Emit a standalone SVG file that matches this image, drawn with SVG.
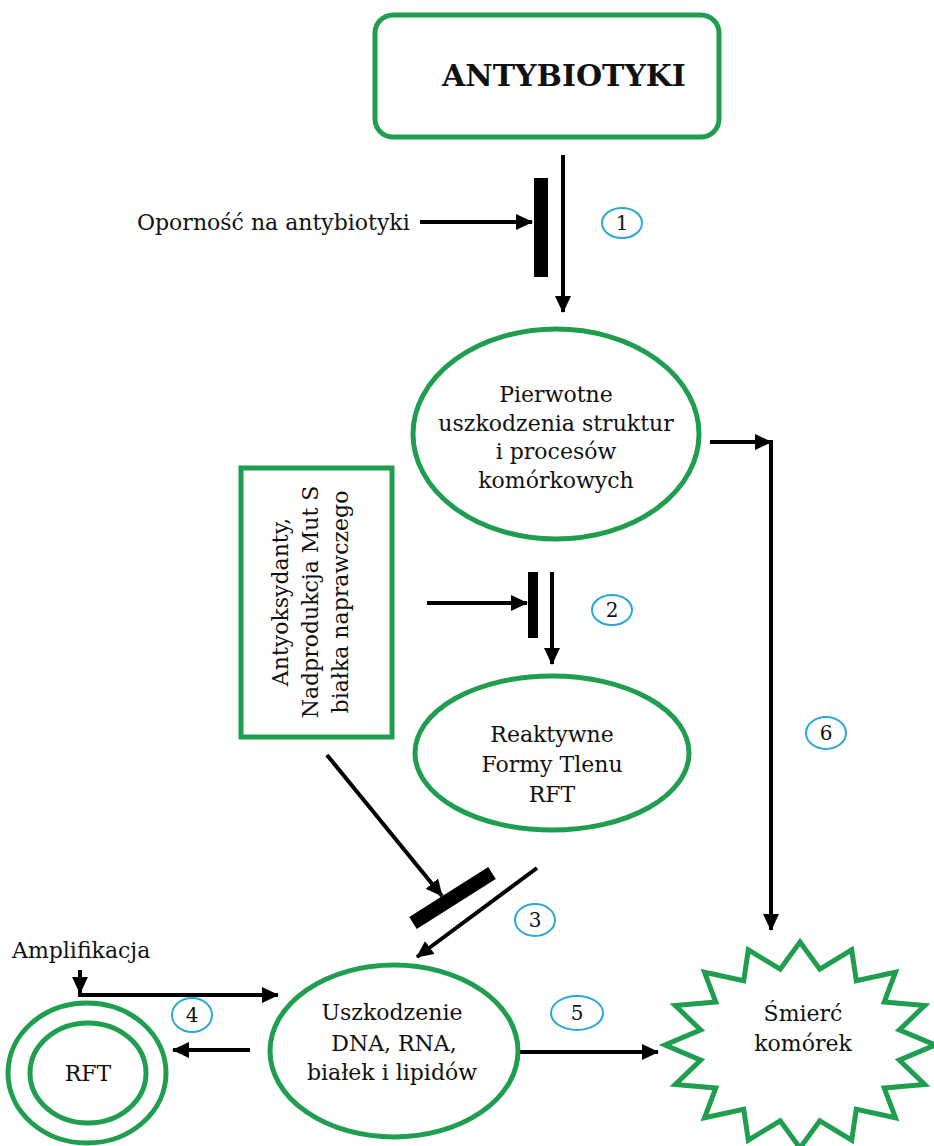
<svg xmlns="http://www.w3.org/2000/svg" width="934" height="1146" viewBox="0 0 934 1146">
<style>
.g{fill:#fff;stroke:#1f9e4f;stroke-width:5}
.t{font-family:"DejaVu Serif","Liberation Serif",serif;font-size:22px;fill:#111;text-anchor:middle}
.lb{fill:none;stroke:#2aa8d8;stroke-width:2}
.n{font-family:"DejaVu Serif","Liberation Serif",serif;font-size:20px;fill:#111;text-anchor:middle}
.c{stroke:#000;stroke-width:4;fill:none}
.bar{fill:#000}
</style>
<defs>
<marker id="ah" markerUnits="userSpaceOnUse" markerWidth="18" markerHeight="18" viewBox="0 0 18 18" refX="16" refY="9" orient="auto">
<path d="M0,1 L17,9 L0,17 Z" fill="#000"/>
</marker>
</defs>
<rect width="934" height="1146" fill="#fff"/>

<g id="antybiotyki">
<rect class="g" x="375" y="15" width="344" height="122" rx="18"/>
<text x="564" y="86" style="font-family:'DejaVu Serif','Liberation Serif',serif;font-weight:bold;font-size:30px;text-anchor:middle;fill:#111">ANTYBIOTYKI</text>
</g>

<g id="opornosc">
<text class="t" x="137" y="230" style="text-anchor:start">Oporność na antybiotyki</text>
</g>

<g id="pierwotne">
<ellipse class="g" cx="556" cy="434" rx="143" ry="105"/>
<text class="t" x="556" y="402">Pierwotne</text>
<text class="t" x="556" y="431">uszkodzenia struktur</text>
<text class="t" x="556" y="459">i procesów</text>
<text class="t" x="556" y="488">komórkowych</text>
</g>

<g id="antyoksydanty">
<rect class="g" x="241" y="468" width="151" height="269"/>
<g transform="translate(0,602) rotate(-90)">
<text class="t" x="0" y="288">Antyoksydanty,</text>
<text class="t" x="0" y="318">Nadprodukcja Mut S</text>
<text class="t" x="0" y="348">białka naprawczego</text>
</g>
</g>

<g id="rft1">
<ellipse class="g" cx="552" cy="753" rx="137" ry="77"/>
<text class="t" x="552" y="742">Reaktywne</text>
<text class="t" x="552" y="772">Formy Tlenu</text>
<text class="t" x="552" y="802">RFT</text>
</g>

<g id="uszkodzenie">
<ellipse class="g" cx="394" cy="1051" rx="124" ry="86"/>
<text class="t" x="392" y="1020">Uszkodzenie</text>
<text class="t" x="394" y="1051">DNA, RNA,</text>
<text class="t" x="392" y="1080">białek i lipidów</text>
</g>

<g id="amplifikacja">
<text class="t" x="12" y="958" style="text-anchor:start">Amplifikacja</text>
</g>

<g id="rft2">
<ellipse class="g" cx="87" cy="1073" rx="79" ry="70"/>
<ellipse class="g" cx="88" cy="1073" rx="58" ry="50"/>
<text class="t" x="88" y="1081">RFT</text>
</g>

<g id="smierc">
<polygon class="g" points="800,942 819.8,969.2 851.7,949.8 856.3,980.8 895.5,972.2 884.2,1002.1 924.7,1005.6 899.3,1029.9 935,1045 899.3,1060.1 924.7,1084.4 884.2,1087.9 895.5,1117.8 856.3,1109.2 851.7,1140.2 819.8,1120.8 800,1148 780.2,1120.8 748.3,1140.2 743.7,1109.2 704.5,1117.8 715.8,1087.9 675.3,1084.4 700.7,1060.1 665,1045 700.7,1029.9 675.3,1005.6 715.8,1002.1 704.5,972.2 743.7,980.8 748.3,949.8 780.2,969.2"/>
<text class="t" x="803" y="1021">Śmierć</text>
<text class="t" x="803" y="1051">komórek</text>
</g>

<g id="labels">
<ellipse class="lb" cx="622" cy="223" rx="20" ry="15"/>
<text class="n" x="622" y="230">1</text>
<ellipse class="lb" cx="612" cy="610" rx="20" ry="15"/>
<text class="n" x="612" y="617">2</text>
<ellipse class="lb" cx="535" cy="920" rx="20" ry="16"/>
<text class="n" x="535" y="927">3</text>
<ellipse class="lb" cx="192" cy="1015" rx="20" ry="17"/>
<text class="n" x="192" y="1022">4</text>
<ellipse class="lb" cx="577" cy="1013" rx="26" ry="17"/>
<text class="n" x="577" y="1020">5</text>
<ellipse class="lb" cx="826" cy="733" rx="20" ry="16"/>
<text class="n" x="826" y="740">6</text>
</g>

<g id="connectors">
<line class="c" x1="563" y1="155" x2="563" y2="312" marker-end="url(#ah)"/>
<rect class="bar" x="534" y="178" width="14" height="99"/>
<line class="c" x1="420" y1="222" x2="532" y2="222" marker-end="url(#ah)"/>

<path class="c" d="M710,442 L771,442" marker-end="url(#ah)"/>
<line class="c" x1="771" y1="440" x2="771" y2="930" marker-end="url(#ah)"/>

<line class="c" x1="427" y1="603" x2="527" y2="603" marker-end="url(#ah)"/>
<rect class="bar" x="528" y="572" width="10" height="66"/>
<line class="c" x1="552" y1="572" x2="552" y2="664" marker-end="url(#ah)"/>

<line class="c" x1="327" y1="755" x2="442" y2="896" marker-end="url(#ah)"/>
<line x1="413" y1="923" x2="492" y2="873" stroke="#000" stroke-width="14"/>
<line class="c" x1="537" y1="868" x2="417" y2="957" marker-end="url(#ah)"/>

<line class="c" x1="80" y1="970" x2="80" y2="993" marker-end="url(#ah)"/>
<line class="c" x1="78" y1="995" x2="278" y2="995" marker-end="url(#ah)"/>
<line class="c" x1="250" y1="1050" x2="173" y2="1050" marker-end="url(#ah)"/>
<line class="c" x1="520" y1="1052" x2="658" y2="1052" marker-end="url(#ah)"/>
</g>
</svg>
